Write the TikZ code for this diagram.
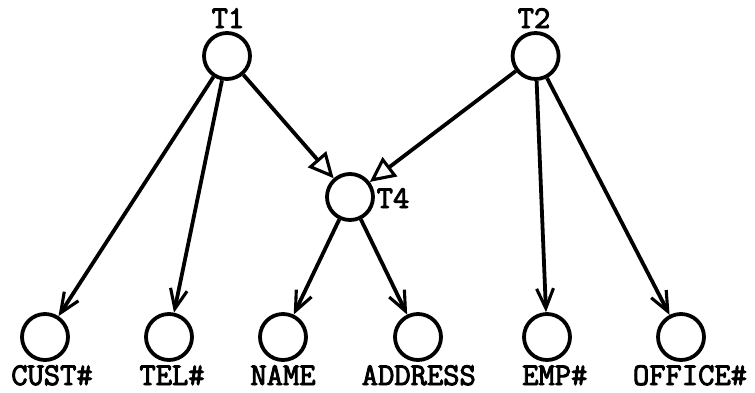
\documentclass[tikz,border=0pt]{standalone}
\usepackage{fontspec}
\newfontfamily\typer{Latin Modern Mono}[FakeBold=3]
\usetikzlibrary{arrows.meta}

\begin{document}
\begin{tikzpicture}[
  line width=2.7pt,
  item/.style={circle, draw, minimum size=1.15cm, inner sep=0pt},
  tag/.style={font=\typer\fontsize{22.5}{26}\selectfont, inner sep=0pt, anchor=base},
  barb/.style={-{Straight Barb[length=14pt,width=12pt,line width=2.2pt]}},
  tri/.style={-{Triangle[open,length=18pt,width=17pt,line width=2.2pt]}}]
  \useasboundingbox (0,0) rectangle (18.875,9.8);
  % Draw the three upper circles with their names
  \node[item] (t1) at (5.675,8.4) {};
  \node[item] (t2) at (13.39,8.4) {};
  \node[item] (t4) at (8.75,4.875) {};
  \node[tag] (t1name) at (5.7,9.1) {T1};
  \node[tag] (t2name) at (13.35,9.1) {T2};
  \node[tag] (t4name) at (9.825,4.6) {T4};
  % Draw the six lower circles with their names
  \node[item] (cust) at (1.125,1.375) {};
  \node[item] (tel) at (4.225,1.375) {};
  \node[item] (name) at (7.075,1.375) {};
  \node[item] (addr) at (10.45,1.375) {};
  \node[item] (emp) at (13.675,1.375) {};
  \node[item] (office) at (17.025,1.375) {};
  \node[tag] (custname) at (1.3,0.175) {CUST\#};
  \node[tag] (telname) at (4.3,0.175) {TEL\#};
  \node[tag] (namename) at (7.075,0.175) {NAME};
  \node[tag] (addrname) at (10.47,0.175) {ADDRESS};
  \node[tag] (empname) at (13.87,0.175) {EMP\#};
  \node[tag] (officename) at (17.25,0.175) {OFFICE\#};
  % Arrows
  \draw[barb] (t1) -- (cust);
  \draw[barb] (t1) -- (tel);
  \draw[tri] (t1) -- (t4);
  \draw[tri] (t2) -- (t4);
  \draw[barb] (t2) -- (emp);
  \draw[barb] (t2) -- (office);
  \draw[barb] (t4) -- (name);
  \draw[barb] (t4) -- (addr);
\end{tikzpicture}
\end{document}
